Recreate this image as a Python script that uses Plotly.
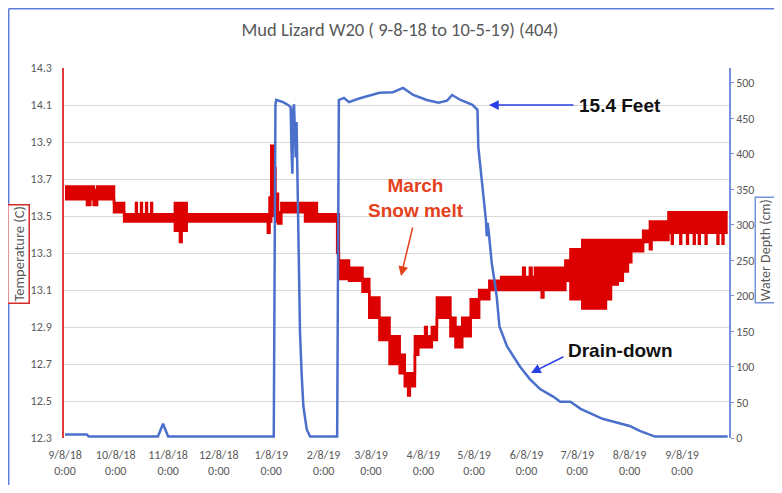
import plotly.graph_objects as go

# ---------------- data ----------------
tick_dates = ["2018-09-08", "2018-10-08", "2018-11-08", "2018-12-08", "2019-01-08",
              "2019-02-08", "2019-03-08", "2019-04-08", "2019-05-08", "2019-06-08",
              "2019-07-08", "2019-08-08", "2019-09-08"]
tick_labels = ["9/8/18<br>0:00", "10/8/18<br>0:00", "11/8/18<br>0:00", "12/8/18<br>0:00",
               "1/8/19<br>0:00", "2/8/19<br>0:00", "3/8/19<br>0:00", "4/8/19<br>0:00",
               "5/8/19<br>0:00", "6/8/19<br>0:00", "7/8/19<br>0:00", "8/8/19<br>0:00",
               "9/8/19<br>0:00"]

# Temperature (C): logger readings flicker between adjacent levels, so the
# series is kept as its lower and upper envelope.
temp_dates = [
    "2018-09-08", "2018-09-21", "2018-09-23", "2018-09-25", "2018-09-27",
    "2018-10-07", "2018-10-13",
    "2018-10-20", "2018-10-20 12:00", "2018-10-23", "2018-10-23 12:00",
    "2018-10-26", "2018-10-26 12:00", "2018-10-29", "2018-10-29 12:00",
    "2018-11-12", "2018-11-15", "2018-11-16", "2018-11-19",
    "2019-01-06", "2019-01-07", "2019-01-08", "2019-01-09 12:00", "2019-01-10 12:00",
    "2019-01-12", "2019-01-14", "2019-01-28", "2019-02-04", "2019-02-16",
    "2019-02-17", "2019-02-23", "2019-03-03", "2019-03-07", "2019-03-13",
    "2019-03-19", "2019-03-25", "2019-03-28", "2019-03-30", "2019-03-31",
    "2019-04-03", "2019-04-05", "2019-04-09", "2019-04-10", "2019-04-13",
    "2019-04-16", "2019-04-24", "2019-04-27", "2019-05-01", "2019-05-06",
    "2019-05-11", "2019-05-17", "2019-05-24", "2019-06-06", "2019-06-07",
    "2019-06-10", "2019-06-11", "2019-06-13", "2019-06-17", "2019-06-18",
    "2019-07-01", "2019-07-04", "2019-07-11", "2019-07-25", "2019-07-28",
    "2019-08-01", "2019-08-04", "2019-08-07", "2019-08-09", "2019-08-16",
    "2019-08-20", "2019-08-21", "2019-08-31",
    "2019-09-02", "2019-09-02 12:00", "2019-09-07", "2019-09-07 12:00",
    "2019-09-11", "2019-09-11 12:00", "2019-09-15", "2019-09-15 12:00",
    "2019-09-18", "2019-09-18 12:00", "2019-09-22", "2019-09-22 12:00",
    "2019-09-29", "2019-09-29 12:00", "2019-10-02", "2019-10-02 12:00",
    "2019-10-05",
]
temp_low = [
    13.59, 13.56, 13.59, 13.56, 13.59,
    13.52, 13.47,
    13.47, 13.47, 13.47, 13.47,
    13.47, 13.47, 13.47, 13.47,
    13.42, 13.36, 13.42, 13.47,
    13.41, 13.47, 13.50, 13.50, 13.47,
    13.46, 13.52, 13.47, 13.47, 13.30,
    13.16, 13.15, 13.09, 12.95, 12.83,
    12.70, 12.65, 12.58, 12.53, 12.58,
    12.75, 12.79, 12.79, 12.79, 12.83,
    12.95, 12.85, 12.79, 12.85, 12.95,
    13.05, 13.10, 13.10, 13.10, 13.10,
    13.10, 13.10, 13.10, 13.06, 13.10,
    13.15, 13.05, 13.00, 13.05, 13.13,
    13.15, 13.20, 13.25, 13.31, 13.36,
    13.32, 13.37, 13.41,
    13.35, 13.41, 13.35, 13.41,
    13.35, 13.41, 13.35, 13.41,
    13.35, 13.41, 13.35, 13.41,
    13.35, 13.41, 13.35, 13.41,
    13.41,
]
temp_high = [
    13.66, 13.66, 13.66, 13.64, 13.66,
    13.57, 13.51,
    13.57, 13.51, 13.57, 13.51,
    13.57, 13.51, 13.57, 13.51,
    13.57, 13.57, 13.57, 13.51,
    13.51, 13.60, 13.88, 13.76, 13.62,
    13.52, 13.57, 13.57, 13.51, 13.51,
    13.26, 13.22, 13.16, 13.06, 12.95,
    12.85, 12.75, 12.65, 12.65, 12.65,
    12.85, 12.85, 12.90, 12.85, 12.90,
    13.06, 12.95, 12.90, 12.95, 13.05,
    13.10, 13.15, 13.17, 13.22, 13.17,
    13.22, 13.17, 13.22, 13.22, 13.22,
    13.26, 13.32, 13.37, 13.37, 13.37,
    13.37, 13.37, 13.37, 13.37, 13.42,
    13.47, 13.47, 13.52,
    13.52, 13.52, 13.52, 13.52,
    13.52, 13.52, 13.52, 13.52,
    13.52, 13.52, 13.52, 13.52,
    13.52, 13.52, 13.52, 13.52,
    13.52,
]

# Water depth (cm)
water_dates = [
    "2018-09-08", "2018-09-21", "2018-09-22", "2018-11-02", "2018-11-05",
    "2018-11-08", "2019-01-09 12:00", "2019-01-10 12:00", "2019-01-11",
    "2019-01-15", "2019-01-18", "2019-01-19 12:00", "2019-01-20",
    "2019-01-20 12:00", "2019-01-21", "2019-01-21 12:00", "2019-01-22",
    "2019-01-22 12:00", "2019-01-23", "2019-01-24", "2019-01-25",
    "2019-01-26", "2019-01-27", "2019-01-29", "2019-01-31", "2019-02-16",
    "2019-02-17", "2019-02-20", "2019-02-23", "2019-03-01", "2019-03-07",
    "2019-03-13", "2019-03-21", "2019-03-27", "2019-04-02", "2019-04-10",
    "2019-04-17", "2019-04-22", "2019-04-25", "2019-04-30", "2019-05-07",
    "2019-05-10", "2019-05-10 12:00", "2019-05-13", "2019-05-14 12:00",
    "2019-05-15", "2019-05-15 12:00", "2019-05-16", "2019-05-16 16:00",
    "2019-05-17 08:00", "2019-05-18 10:00", "2019-05-20 05:00",
    "2019-05-21 10:00", "2019-05-23", "2019-05-27 12:00", "2019-06-04",
    "2019-06-10", "2019-06-16", "2019-06-24", "2019-06-28", "2019-07-04",
    "2019-07-10", "2019-07-23", "2019-08-08", "2019-08-14", "2019-08-23",
    "2019-10-05",
]
water_depth = [
    5, 5, 2, 2, 20,
    2, 2, 470, 476,
    473, 469, 466, 405,
    372, 462, 470, 430,
    395, 445, 300, 150,
    90, 45, 12, 2, 2,
    476, 479, 473, 478, 482,
    486, 487, 493, 483, 476,
    472, 475, 483, 476, 469,
    462, 410, 350, 317,
    307, 284, 303, 290,
    270, 247, 219,
    198, 157, 129, 101,
    83, 69, 58, 51, 51,
    41, 27, 17, 10, 2,
    2,
]

# ---------------- figure ----------------
RED = "#dc0000"
BLUE = "#4a70cc"
AXBLUE = "#7592dc"
GREY = "#595959"
FONT = "Carlito, Lato, sans-serif"


def px(xp):
    """page x pixel -> paper x (plot area spans page x 64..729)"""
    return (xp - 64) / 665


def py(yp):
    """page y pixel -> paper y (plot area spans page y 68..438)"""
    return (438 - yp) / 370


fig = go.Figure()
fig.add_trace(go.Scatter(x=temp_dates, y=temp_low, mode="lines", line_shape="hv",
                         line=dict(color=RED, width=2.5), yaxis="y", showlegend=False,
                         name="Temperature low"))
fig.add_trace(go.Scatter(x=temp_dates, y=temp_high, mode="lines", line_shape="hv",
                         line=dict(color=RED, width=2.5), fill="tonexty", fillcolor=RED,
                         yaxis="y", showlegend=False, name="Temperature"))
fig.add_trace(go.Scatter(x=water_dates, y=water_depth, mode="lines",
                         line=dict(color=BLUE, width=2.5), yaxis="y2",
                         showlegend=False, name="Water Depth"))

fig.update_layout(
    width=774, height=477,
    margin=dict(l=56, r=53, t=60, b=47),
    paper_bgcolor="white", plot_bgcolor="white",
    showlegend=False,
    title=dict(text="Mud Lizard W20 ( 9-8-18 to 10-5-19) (404)",
               x=px(400), xref="paper", xanchor="center",
               y=1 - 22 / 477, yref="container", yanchor="middle",
               font=dict(family=FONT, size=18.5, color=GREY)),
    xaxis=dict(type="date", range=["2018-09-07 10:00", "2019-10-05 19:00"],
               tickvals=tick_dates, ticktext=tick_labels, tickangle=0,
               showgrid=False, showline=False, zeroline=False,
               ticks="outside", ticklen=6, tickcolor="rgba(0,0,0,0)",
               automargin=False,
               tickfont=dict(family=FONT, size=12, color=GREY)),
    yaxis=dict(range=[12.3, 14.3], tick0=12.3, dtick=0.2, tickformat=".1f",
               showgrid=True, gridcolor="#d9d9d9", gridwidth=1,
               showline=True, linecolor="#e03a3a", linewidth=1.5,
               zeroline=False, ticks="outside", ticklen=8,
               tickcolor="rgba(0,0,0,0)", automargin=False,
               tickfont=dict(family=FONT, size=12, color=GREY)),
    yaxis2=dict(range=[0, 521], tick0=0, dtick=50, overlaying="y", side="right",
                showgrid=False, zeroline=False, showline=True, linecolor=AXBLUE,
                linewidth=1.5, ticks="outside", ticklen=3, tickcolor=AXBLUE,
                automargin=False,
                tickfont=dict(family=FONT, size=12, color=GREY)),
)

# chart frame lines (left and top edges)
fig.add_shape(type="line", xref="paper", yref="paper",
              x0=px(8.7), x1=px(8.7), y0=py(8.5), y1=py(500),
              line=dict(color="#5b7fd6", width=1.5))
fig.add_shape(type="line", xref="paper", yref="paper",
              x0=px(8.7), x1=px(790), y0=py(8.7), y1=py(8.7),
              line=dict(color="#5b7fd6", width=1.5))

# axis titles in boxes
fig.add_annotation(text="Temperature (C)", xref="paper", yref="paper",
                   x=px(18), y=py(254), xanchor="center", yanchor="middle",
                   textangle=-90, showarrow=False,
                   font=dict(family=FONT, size=14.5, color=GREY),
                   bordercolor="#d42a2a", borderwidth=1.5, borderpad=1,
                   bgcolor="white")
fig.add_annotation(text="Water Depth (cm)", xref="paper", yref="paper",
                   x=px(765.5), y=py(250), xanchor="center", yanchor="middle",
                   textangle=-90, showarrow=False,
                   font=dict(family=FONT, size=14, color=GREY),
                   bordercolor=AXBLUE, borderwidth=1.5, borderpad=1,
                   bgcolor="white")

# callouts
ARROWBLUE = "#2a40e6"
BOLD = "Liberation Sans, Arial"
fig.add_annotation(text="<b>15.4 Feet</b>", xref="paper", yref="paper",
                   x=px(620), y=py(105), xanchor="center", yanchor="middle",
                   showarrow=False, font=dict(family=BOLD, size=19, color="#111111"))
fig.add_annotation(text="", xref="paper", yref="paper",
                   x=px(489), y=py(105), ax=86, ay=0,
                   showarrow=True, arrowhead=2, arrowsize=1.3, arrowwidth=1.5,
                   arrowcolor=ARROWBLUE, standoff=0)
fig.add_annotation(text="<b>March<br>Snow melt</b>", xref="paper", yref="paper",
                   x=px(416), y=py(198), xanchor="center", yanchor="middle",
                   showarrow=False, font=dict(family=BOLD, size=19, color="#e5401c"))
fig.add_annotation(text="", xref="paper", yref="paper",
                   x=px(401), y=py(276), ax=12, ay=-50,
                   showarrow=True, arrowhead=2, arrowsize=1.3, arrowwidth=1.5,
                   arrowcolor="#e5401c", standoff=0)
fig.add_annotation(text="<b>Drain-down</b>", xref="paper", yref="paper",
                   x=px(620), y=py(350), xanchor="center", yanchor="middle",
                   showarrow=False, font=dict(family=BOLD, size=19, color="#111111"))
fig.add_annotation(text="", xref="paper", yref="paper",
                   x=px(531), y=py(373), ax=34, ay=-17,
                   showarrow=True, arrowhead=2, arrowsize=1.3, arrowwidth=1.5,
                   arrowcolor=ARROWBLUE, standoff=0)

fig.write_html("out.html")
